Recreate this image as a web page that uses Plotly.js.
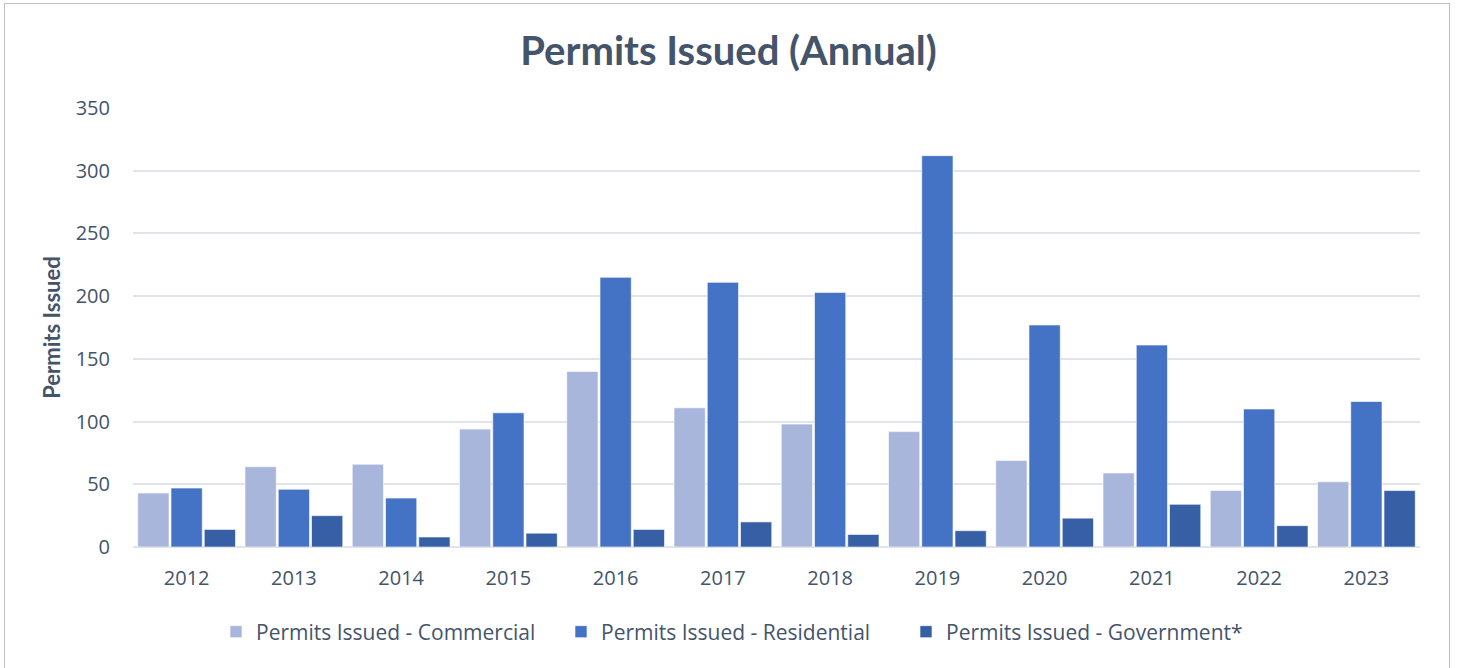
<!DOCTYPE html>
<html>
<head>
<meta charset="utf-8">
<script src="https://cdn.plot.ly/plotly-3.0.1.min.js"></script>
<style>
  html, body { margin: 0; padding: 0; overflow: hidden; background: #ffffff; }
  #chart { position: absolute; left: 0; top: 0; width: 1457px; height: 668px; }
  #frame { position: absolute; left: 4px; top: 3px; width: 1444px; height: 700px; border: 1px solid #BFBFBF; pointer-events: none; }
</style>
</head>
<body>
<div id="chart"></div>
<div id="frame"></div>
<script>
const years = ["2012","2013","2014","2015","2016","2017","2018","2019","2020","2021","2022","2023"];
const commercial = [43, 64, 66, 94, 140, 111, 98, 92, 69, 59, 45, 52];
const residential = [47, 46, 39, 107, 215, 211, 203, 312, 177, 161, 110, 116];
const government = [14, 25, 8, 11, 14, 20, 10, 13, 23, 34, 17, 45];
const seriesNames = ["Permits Issued - Commercial", "Permits Issued - Residential", "Permits Issued - Government*"];
const yTicks = [0, 50, 100, 150, 200, 250, 300, 350];

const textColor = "#44546A";
const colors = ["#A9B6DB", "#4472C4", "#365FA5"];
const dataSets = [commercial, residential, government];

const traces = dataSets.map((vals, i) => ({
  type: "bar",
  x: years,
  y: vals,
  name: seriesNames[i],
  marker: { color: colors[i], line: { color: "rgba(255,255,255,0.6)", width: 1 } },
  hoverinfo: "x+y+name"
}));

const layout = {
  width: 1457,
  height: 668,
  paper_bgcolor: "rgba(0,0,0,0)",
  plot_bgcolor: "#ffffff",
  margin: { l: 133, r: 37, t: 108, b: 121, pad: 0 },
  barmode: "group",
  bargap: 0.07,
  bargroupgap: 0.06,
  title: {
    text: "<b>Permits Issued (Annual)</b>",
    font: { family: "Lato, 'Open Sans', sans-serif", size: 40, color: textColor },
    x: 0.5, xanchor: "center",
    y: 1 - 51 / 668, yanchor: "middle", yref: "container"
  },
  xaxis: {
    type: "category",
    showgrid: false,
    showline: false,
    zeroline: false,
    ticks: "",
    ticklabelstandoff: 17,
    tickfont: { family: "'Open Sans', sans-serif", size: 20, color: textColor }
  },
  yaxis: {
    range: [0, 350],
    tickvals: yTicks,
    ticktext: yTicks.map(String),
    showgrid: true,
    gridcolor: "#E1E4EB",
    gridwidth: 1.5,
    zeroline: true,
    zerolinecolor: "#E1E4EB",
    zerolinewidth: 1.5,
    showline: false,
    ticks: "",
    ticklabelstandoff: 22,
    tickfont: { family: "'Open Sans', sans-serif", size: 20, color: textColor },
    title: {
      text: "<b>Permits Issued</b>",
      font: { family: "Lato, 'Open Sans', sans-serif", size: 22, color: textColor },
      standoff: 8
    }
  },
  legend: {
    orientation: "h",
    x: (216 - 133) / 1287, xanchor: "left",
    y: -(632 - 547) / 439, yanchor: "middle",
    font: { family: "'Open Sans', sans-serif", size: 21, color: textColor },
    entrywidth: 300,
    entrywidthmode: "pixels",
    traceorder: "normal"
  },
  showlegend: true
};

Plotly.newPlot("chart", traces, layout, { displayModeBar: false, responsive: false });
</script>
</body>
</html>
